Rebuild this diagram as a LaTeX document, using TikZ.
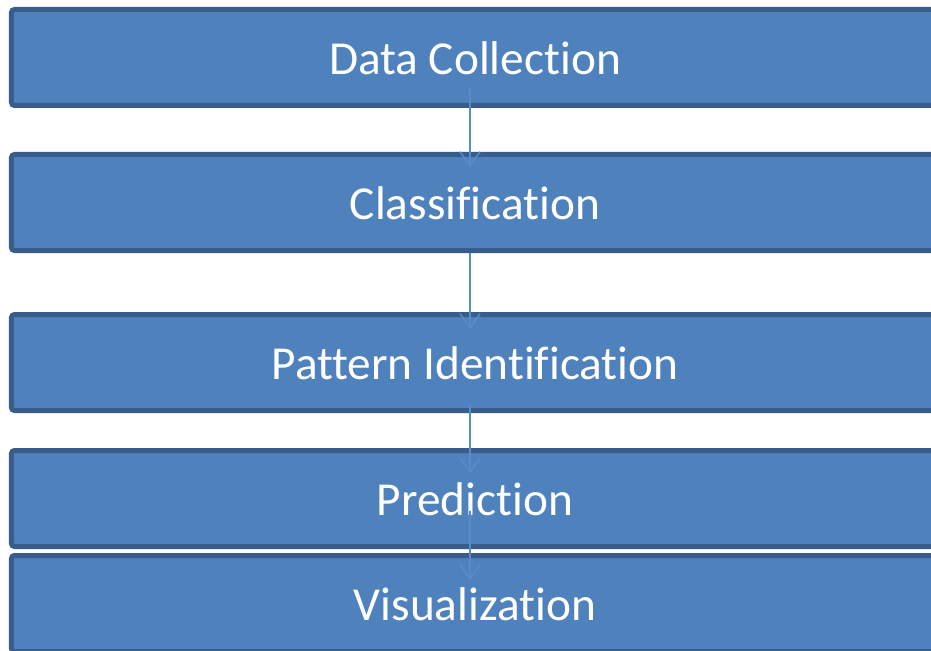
\documentclass[tikz,border=0pt]{standalone}
\usepackage{fontspec}
\setmainfont{Carlito}[Ligatures={NoCommon}]
\usetikzlibrary{arrows.meta}
\definecolor{boxfill}{HTML}{4F81BD}
\definecolor{boxline}{HTML}{385D8A}
\definecolor{arrowc}{HTML}{5A8AC8}
\begin{document}
\begin{tikzpicture}[x=1bp,y=-1bp,
  stagebox/.style={draw=boxline, fill=boxfill, line width=5bp, rounded corners=3bp,
    minimum width=927bp, minimum height=96bp, inner sep=0pt, text=white,
    font=\fontsize{47.5}{52}\selectfont, text height=34bp, text depth=0bp},
  flow/.style={draw=arrowc, line width=1.5bp, -{Straight Barb[length=14bp,width=20bp,line width=1.5bp]}}]
\fill[white] (0,0) rectangle (931,651);
\useasboundingbox (0,0) rectangle (931,651);
\clip (0,0) rectangle (931,651);
\node[stagebox] (b1) at (475,57.5) {Data Collection};
\node[stagebox] (b2) at (475,202.5) {Classification};
\node[stagebox] (b3) at (475,362.5) {Pattern Identification};
\node[stagebox] (b4) at (475,498.5) {Prediction};
\node[stagebox] (b5) at (475,603.5) {Visualization};
\draw[flow] ([xshift=-5bp,yshift=21bp]b1.south) -- ([xshift=-5bp,yshift=-15bp]b2.north);
\draw[flow] ([xshift=-5bp,yshift=0bp]b2.south) -- ([xshift=-5bp,yshift=-17bp]b3.north);
\draw[flow] ([xshift=-5bp,yshift=8bp]b3.south) -- ([xshift=-5bp,yshift=-25bp]b4.north);
\draw[flow] ([xshift=-5bp,yshift=-12bp]b4.center) -- ([xshift=-5bp,yshift=-27bp]b5.north);
\end{tikzpicture}
\end{document}
